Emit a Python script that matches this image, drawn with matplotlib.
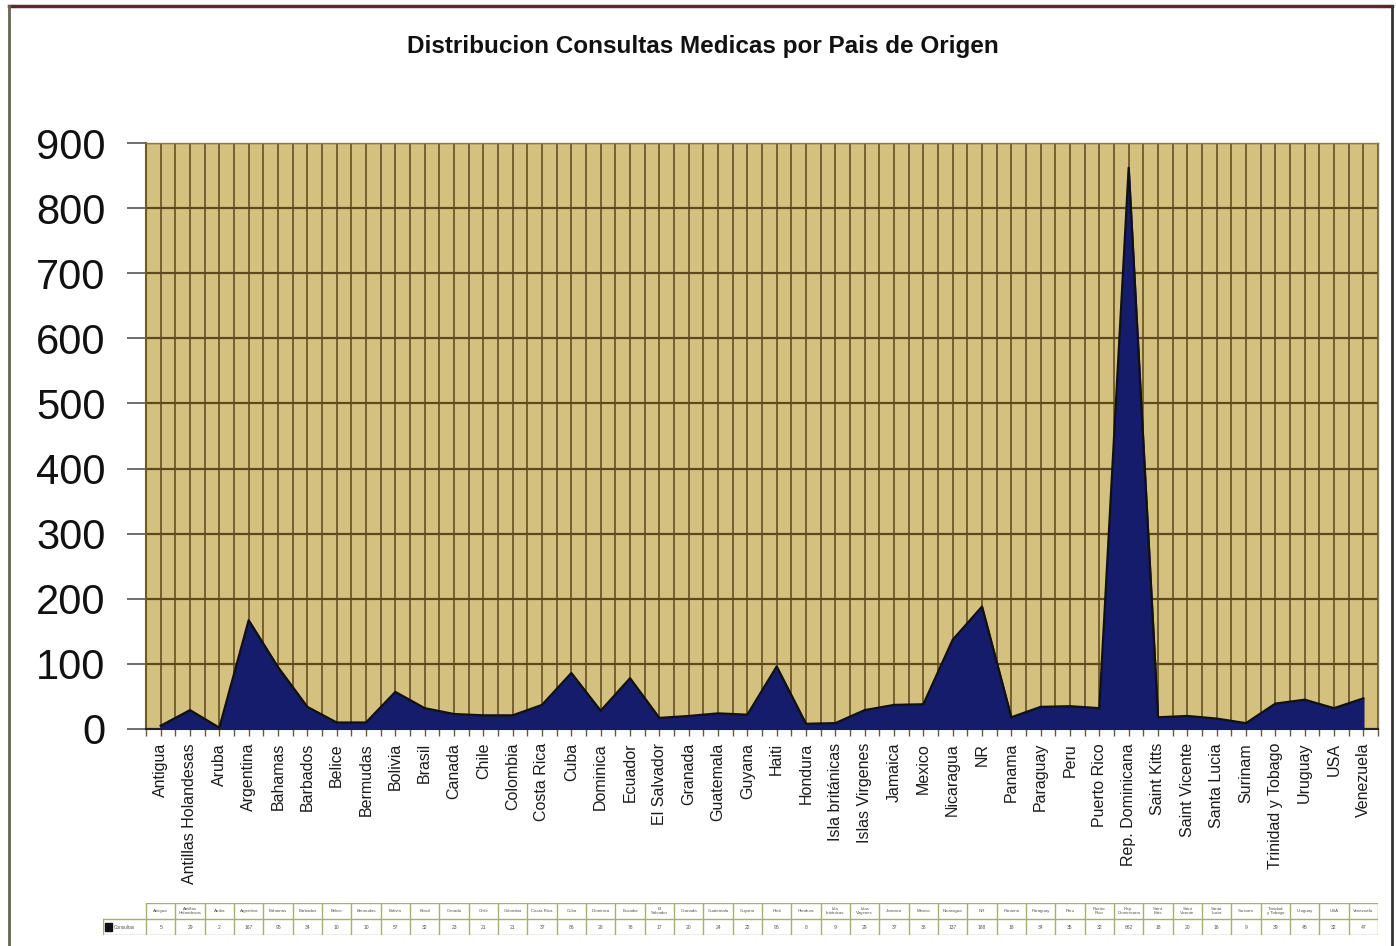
import numpy as np
import matplotlib.pyplot as plt
from matplotlib.lines import Line2D
from matplotlib.patches import Rectangle

plt.rcParams['font.family'] = ['Liberation Sans', 'DejaVu Sans']

paises = ["Antigua", "Antillas Holandesas", "Aruba", "Argentina", "Bahamas",
          "Barbados", "Belice", "Bermudas", "Bolivia", "Brasil", "Canada",
          "Chile", "Colombia", "Costa Rica", "Cuba", "Dominica", "Ecuador",
          "El Salvador", "Granada", "Guatemala", "Guyana", "Haiti", "Hondura",
          "Isla británicas", "Islas Virgenes", "Jamaica", "Mexico", "Nicaragua",
          "NR", "Panama", "Paraguay", "Peru", "Puerto Rico", "Rep. Dominicana",
          "Saint Kitts", "Saint Vicente", "Santa Lucia", "Surinam",
          "Trinidad y Tobago", "Uruguay", "USA", "Venezuela"]
consultas = [5, 29, 2, 167, 95, 34, 10, 10, 57, 32, 23, 21, 21, 37, 86, 28,
             78, 17, 20, 24, 22, 96, 8, 9, 29, 37, 38, 137, 188, 18, 34, 35,
             32, 862, 18, 20, 16, 9, 39, 45, 32, 47]
y_ticks = list(range(0, 1000, 100))

W, H = 1396, 946
fig = plt.figure(figsize=(W / 100, H / 100), dpi=100)

x = np.arange(len(paises))

# main plot area
ax = fig.add_axes([146 / W, 1 - 729 / H, (1378 - 146) / W, (729 - 143) / H])
ax.set_facecolor('#D4C07F')
ax.fill_between(x, consultas, 0, color='#161C6C', zorder=3)
ax.plot(x, consultas, color='#111111', lw=1.6, zorder=4)

ax.set_xlim(-0.5, len(paises) - 0.5)
ax.set_ylim(0, 900)
ax.set_yticks(y_ticks)
ax.set_yticklabels([str(v) for v in y_ticks], fontsize=30, color='#111111')
ax.set_xticks(x)
ax.set_xticklabels(paises, rotation=90, fontsize=11.5, color='#1A1A1A',
                   va='top', ha='center')
ax.set_xticks(np.arange(-0.5, len(paises), 1.0), minor=True)

ax.grid(axis='y', color='#5E4A1E', lw=1.6, zorder=1)
ax.grid(axis='x', which='both', color='#6E5A28', lw=1.3, zorder=1)
ax.tick_params(axis='y', length=14, width=1.2, color='#555555', pad=15)
ax.tick_params(axis='x', which='both', length=5, width=1, color='#6E5A28', pad=5)

for s in ['top', 'right']:
    ax.spines[s].set_color('#8A7A50')
    ax.spines[s].set_linewidth(1)
ax.spines['left'].set_color('#6E5A28')
ax.spines['left'].set_linewidth(1.5)
ax.spines['bottom'].set_color('#222222')
ax.spines['bottom'].set_linewidth(1.5)

fig.text(703 / W, 1 - 47 / H, "Distribucion Consultas Medicas por Pais de Origen",
         ha='center', va='center', fontsize=17.5, fontweight='bold', color='#111111')

# data table under the chart
tab = fig.add_axes([103 / W, 1 - 935 / H, (1378 - 103) / W, (935 - 903) / H])
tab.set_xlim(-1.97, len(paises) - 0.5)
tab.set_ylim(0, 2)
tab.axis('off')
lc = '#A8AE70'
tab.plot([-0.5, len(paises) - 0.5], [2, 2], color=lc, lw=1)
tab.plot([-1.97, len(paises) - 0.5], [1, 1], color=lc, lw=1)
tab.plot([-1.97, len(paises) - 0.5], [0, 0], color=lc, lw=1)
tab.plot([-1.97, -1.97], [0, 1], color=lc, lw=1)
for e in np.arange(-0.5, len(paises), 1.0):
    tab.plot([e, e], [0, 2], color=lc, lw=1)
for i, (p, v) in enumerate(zip(paises, consultas)):
    name = p.replace(' ', '\n', 1) if len(p) > 10 else p
    tab.text(i, 1.5, name, ha='center', va='center', fontsize=3.2, color='#555555',
             linespacing=0.9)
    tab.text(i, 0.5, str(v), ha='center', va='center', fontsize=3.6, color='#555555')
tab.add_patch(Rectangle((-1.9, 0.25), 0.22, 0.5, color='#111111'))
tab.text(-1.62, 0.5, "Consultas", ha='left', va='center', fontsize=3.4, color='#555555')

# outer frame of the page
fig.add_artist(Line2D([9 / W, 1392 / W], [1 - 6 / H, 1 - 6 / H], color='#5A2A2A', lw=2.5))
fig.add_artist(Line2D([9 / W, 9 / W], [0, 1 - 6 / H], color='#666655', lw=2))
fig.add_artist(Line2D([1392 / W, 1392 / W], [0, 1 - 6 / H], color='#333333', lw=2))

fig.savefig('out.png', dpi=100)
